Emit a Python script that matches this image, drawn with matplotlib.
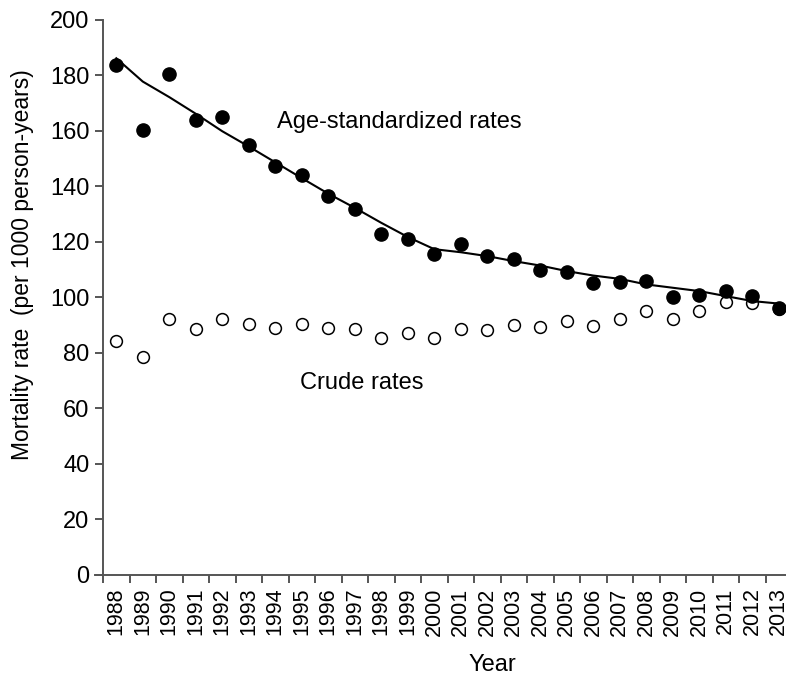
import numpy as np
import matplotlib
matplotlib.use("Agg")
import matplotlib.pyplot as plt

plt.rcParams['font.family'] = ['Liberation Sans', 'DejaVu Sans']

years = list(range(1988, 2014))

age_std = [183.7, 160.4, 180.6, 164.0, 165.2, 154.9, 147.2, 144.2, 136.4, 131.9,
           123.0, 121.1, 115.7, 119.3, 115.1, 114.0, 110.0, 109.1, 105.3, 105.5,
           105.8, 100.2, 101.0, 102.3, 100.7, 96.2]

age_std_fit = [186.2, 177.8, 172.2, 166.2, 159.9, 154.4, 148.7, 143.0, 137.4, 132.3,
               126.9, 121.8, 117.4, 116.3, 114.9, 113.1, 111.5, 109.5, 107.9, 106.7,
               104.7, 103.5, 102.3, 100.5, 98.7, 97.8]

crude = [84.2, 78.4, 92.1, 88.5, 92.3, 90.3, 89.1, 90.6, 89.1, 88.5,
         85.5, 87.1, 85.5, 88.5, 88.2, 90.0, 89.4, 91.6, 89.7, 92.3,
         95.0, 92.3, 95.0, 98.3, 98.1, 96.0]

ax_col = '#555555'

fig = plt.figure(figsize=(7.86, 6.77), dpi=100)
# axes spans a bit past the right edge, like the original
ax = fig.add_axes([0.1209, 0.1507, 0.8868, 0.8198])

x = np.arange(len(years))

ax.plot(x, crude, 'o', markerfacecolor='white', markeredgecolor='black',
        markersize=8.5, markeredgewidth=1.1, zorder=2, clip_on=False)
ax.plot(x, age_std, 'o', color='black', markersize=9.5, zorder=3, clip_on=False)
ax.plot(x, age_std_fit, '-', color='black', linewidth=1.5, zorder=4)

ax.set_xlim(-0.802, 25.5)
ax.set_ylim(0, 200)
ax.spines['left'].set_position(('data', -0.5))
ax.spines['top'].set_visible(False)
ax.spines['right'].set_visible(False)
for s in ['left', 'bottom']:
    ax.spines[s].set_color(ax_col)
    ax.spines[s].set_linewidth(1.4)

ax.set_yticks(range(0, 201, 20))
ax.tick_params(axis='y', direction='out', length=5.8, width=1.4, color=ax_col,
               labelsize=17, pad=4)

ax.set_xticks(x)
ax.set_xticklabels([str(y) for y in years], rotation=90)
ax.set_xticks(np.arange(-0.5, 25.6, 1), minor=True)
ax.tick_params(axis='x', which='major', length=0, labelsize=15.5, pad=9)
ax.tick_params(axis='x', which='minor', direction='out', length=5.8, width=1.4,
               color=ax_col)

ax.set_xlabel('Year', fontsize=17)
ax.xaxis.set_label_coords((492 - 95) / 697, (575 - 665) / 555)
ax.set_ylabel('Mortality rate  (per 1000 person-years)', fontsize=16.5)
ax.yaxis.set_label_coords((22 - 95) / 697, (575 - 265) / 555)
ax.xaxis.label.set_va('center')
ax.yaxis.label.set_va('center')

ax.text(6.07, 163.2, 'Age-standardized rates', fontsize=17, ha='left', va='center')
ax.text(6.93, 69.0, 'Crude rates', fontsize=17, ha='left', va='center')

plt.savefig("out.png", dpi=100)
